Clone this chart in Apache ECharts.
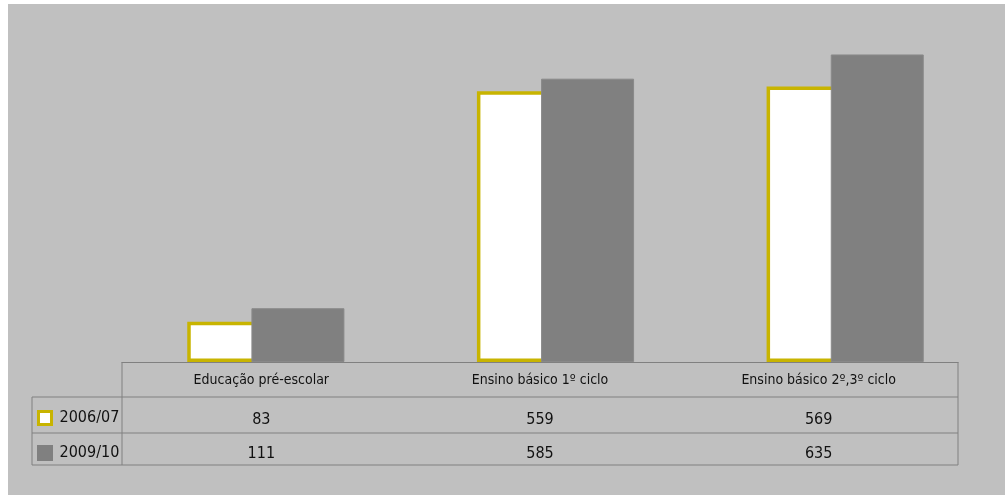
<!DOCTYPE html>
<html>
<head>
<meta charset="utf-8">
<script src="https://cdn.jsdelivr.net/npm/echarts@6/dist/echarts.min.js"></script>
<style>
  html, body { margin: 0; padding: 0; background: #fff; }
  #chart { width: 1005px; height: 495px; }
</style>
</head>
<body>
<div id="chart"></div>
<script>
const categories = ["Educação pré-escolar", "Ensino básico 1º ciclo", "Ensino básico 2º,3º ciclo"];
const seriesNames = ["2006/07", "2009/10"];
const values0607 = [83, 559, 569];
const values0910 = [111, 585, 635];

const FONT = "'DejaVu Sans Condensed', 'Liberation Sans Narrow', sans-serif";
const LINE = "#808080";
const YELLOW = "#c8b400";

// table geometry (px)
const tLeft = 122, tRight = 958, legLeft = 32;
const yAxisLine = 362, yRow1 = 397, yRow2 = 433, yEnd = 465;

const chart = echarts.init(document.getElementById("chart"));

function hline(x1, x2, y) {
  return { type: "line", shape: { x1, y1: y, x2, y2: y }, style: { stroke: LINE, lineWidth: 1 }, z: 1 };
}
function vline(x, y1, y2) {
  return { type: "line", shape: { x1: x, y1, x2: x, y2 }, style: { stroke: LINE, lineWidth: 1 }, z: 1 };
}

const labelBase = {
  fontFamily: FONT,
  color: "#111",
  verticalAlign: "middle",
  interval: 0,
};

const option = {
  backgroundColor: "#ffffff",
  animation: false,
  graphic: [
    { type: "rect", shape: { x: 8, y: 4, width: 997, height: 491 }, style: { fill: "#c0c0c0" }, z: -10 },
    hline(legLeft, tRight, yRow1),
    hline(legLeft, tRight, yRow2),
    hline(legLeft, tRight, yEnd),
    vline(tLeft, yAxisLine, yEnd),
    vline(tRight, yAxisLine, yEnd),
    vline(legLeft, yRow1, yEnd),
  ],
  legend: {
    orient: "vertical",
    left: 37,
    top: 410,
    padding: 0,
    itemWidth: 13,
    itemHeight: 13,
    itemGap: 19,
    textStyle: { fontFamily: FONT, fontSize: 16, color: "#111", padding: [0, 0, 0, 3] },
    data: [
      { name: seriesNames[0], icon: "rect", itemStyle: { color: "#fff", borderColor: YELLOW, borderWidth: 3 } },
      { name: seriesNames[1], icon: "rect", itemStyle: { color: "#808080", borderColor: "#808080", borderWidth: 3 } },
    ],
  },
  grid: [
    // bars
    { left: 121, right: 15, top: 23, bottom: 495 - yAxisLine },
    // data table
    { left: tLeft, right: 1005 - tRight, top: 23, bottom: 495 - yAxisLine },
  ],
  xAxis: [
    {
      type: "category",
      gridIndex: 0,
      position: "bottom",
      data: categories,
      axisLine: { show: false },
      axisTick: { show: false },
      axisLabel: { show: false },
    },
    {
      type: "category",
      gridIndex: 1,
      position: "bottom",
      data: categories,
      axisLine: { show: true, lineStyle: { color: LINE, width: 1 } },
      axisTick: { show: false },
      axisLabel: { ...labelBase, fontSize: 14, margin: 18 },
    },
    {
      type: "category",
      gridIndex: 1,
      position: "bottom",
      offset: 0,
      data: categories,
      axisLine: { show: false },
      axisTick: { show: false },
      axisLabel: { ...labelBase, fontSize: 16, margin: 58, formatter: (v, i) => String(values0607[i]) },
    },
    {
      type: "category",
      gridIndex: 1,
      position: "bottom",
      offset: 0,
      data: categories,
      axisLine: { show: false },
      axisTick: { show: false },
      axisLabel: { ...labelBase, fontSize: 16, margin: 92, formatter: (v, i) => String(values0910[i]) },
    },
  ],
  yAxis: [
    { type: "value", gridIndex: 0, min: 0, max: 700, show: false, splitLine: { show: false } },
    { type: "value", gridIndex: 1, min: 0, max: 700, show: false, splitLine: { show: false } },
  ],
  series: [
    {
      name: seriesNames[0],
      type: "bar",
      xAxisIndex: 0,
      yAxisIndex: 0,
      data: values0607,
      barWidth: 93,
      barGap: "-31%",
      itemStyle: { color: "#ffffff", borderColor: YELLOW, borderWidth: 3.5 },
    },
    {
      name: seriesNames[1],
      type: "bar",
      xAxisIndex: 0,
      yAxisIndex: 0,
      data: values0910,
      barWidth: 93,
      itemStyle: { color: "#808080", borderColor: "#898989", borderWidth: 1 },
    },
  ],
};

chart.setOption(option);
</script>
</body>
</html>
